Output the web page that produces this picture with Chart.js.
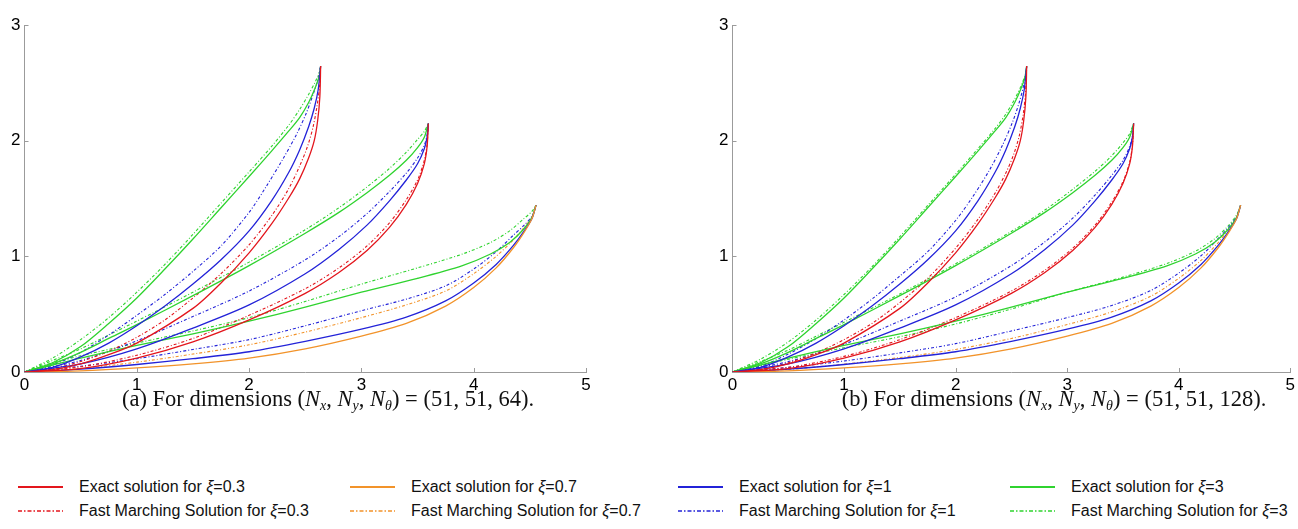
<!DOCTYPE html>
<html>
<head>
<meta charset="utf-8">
<script src="https://cdn.jsdelivr.net/npm/chart.js@4.4.1/dist/chart.umd.min.js"></script>
<style>
  html, body { margin: 0; padding: 0; background: #fff; overflow: hidden; }
  body { width: 1298px; height: 529px; position: relative; font-family: "Liberation Sans", Arial, sans-serif; }
  canvas { position: absolute; top: 0; }
  #plotA { left: 0; }
  #plotB { left: 708px; }
  .caption { position: absolute; top: 386px; transform: translateX(-50%); font-family: "Liberation Serif", "DejaVu Serif", serif; font-size: 22.5px; line-height: 26px; white-space: nowrap; color: #111; }
  .caption sub { font-size: 14px; vertical-align: -4px; line-height: 0; }
  #capA { left: 328px; }
  #capB { left: 1054px; }
  .key { position: absolute; height: 20px; display: flex; align-items: center; white-space: nowrap; font-size: 16px; color: #111; }
  .key svg { margin-right: 16px; flex: none; }
</style>
</head>
<body>
<canvas id="plotA" width="600" height="400"></canvas>
<canvas id="plotB" width="590" height="400"></canvas>
<div class="caption" id="capA">(a) For dimensions (<i>N<sub>x</sub></i>, <i>N<sub>y</sub></i>, <i>N<sub>θ</sub></i>) = (51, 51, 64).</div>
<div class="caption" id="capB">(b) For dimensions (<i>N<sub>x</sub></i>, <i>N<sub>y</sub></i>, <i>N<sub>θ</sub></i>) = (51, 51, 128).</div>
<div id="legend"></div>
<script>
// xi values and their colours
const xiValues = ['0.3', '0.7', '1', '3'];
const xiColors = ['#e3161d', '#f2932a', '#2323d8', '#2fd32f'];

const xTicks = [0, 1, 2, 3, 4, 5];
const yTicks = [0, 1, 2, 3];

// exact solutions, end point (2.64, 2.65)
const exactNear03 = [[0,0],[0.25,0.02],[0.5,0.07],[0.75,0.15],[1.0,0.25],[1.5,0.55],[1.75,0.77],[2.0,1.03],[2.2,1.28],[2.35,1.5],[2.45,1.67],[2.53,1.85],[2.58,2.0],[2.61,2.17],[2.63,2.38],[2.637,2.645]];
const exactNear1 = [[0,0],[0.25,0.04],[0.5,0.13],[0.75,0.25],[1.0,0.4],[1.25,0.57],[1.5,0.76],[1.75,0.97],[2.0,1.22],[2.2,1.48],[2.35,1.72],[2.45,1.92],[2.53,2.12],[2.58,2.28],[2.615,2.44],[2.637,2.645]];
const exactNear3 = [[0,0],[0.25,0.08],[0.5,0.22],[0.75,0.42],[1.0,0.64],[1.25,0.89],[1.5,1.15],[1.75,1.42],[2.0,1.69],[2.2,1.91],[2.35,2.08],[2.45,2.2],[2.53,2.33],[2.59,2.46],[2.625,2.56],[2.637,2.645]];

// exact solutions, end point (3.6, 2.15)
const exactMid03 = [[0,0],[0.5,0.03],[1.0,0.12],[1.5,0.26],[2.0,0.45],[2.5,0.68],[2.8,0.86],[3.05,1.05],[3.25,1.25],[3.4,1.45],[3.5,1.63],[3.56,1.8],[3.585,1.95],[3.596,2.149]];
const exactMid1 = [[0,0],[0.5,0.07],[1.0,0.2],[1.5,0.38],[2.0,0.58],[2.5,0.85],[2.8,1.06],[3.05,1.27],[3.25,1.48],[3.4,1.66],[3.5,1.8],[3.56,1.93],[3.585,2.03],[3.596,2.149]];
const exactMid3 = [[0,0],[0.25,0.07],[0.5,0.17],[0.75,0.29],[1.0,0.41],[1.5,0.66],[2.0,0.92],[2.5,1.2],[2.8,1.38],[3.05,1.55],[3.25,1.7],[3.4,1.83],[3.5,1.94],[3.56,2.03],[3.596,2.149]];

// exact solutions, end point (4.56, 1.44)
const exactFar07 = [[0,0],[0.5,0.01],[1.0,0.035],[1.5,0.07],[2.0,0.12],[2.5,0.2],[3.0,0.31],[3.4,0.42],[3.75,0.57],[4.0,0.73],[4.2,0.9],[4.35,1.07],[4.45,1.21],[4.52,1.33],[4.555,1.443]];
const exactFar1 = [[0,0],[0.5,0.025],[1.0,0.065],[1.5,0.115],[2.0,0.175],[2.5,0.265],[3.0,0.37],[3.4,0.475],[3.75,0.615],[4.0,0.77],[4.2,0.93],[4.35,1.09],[4.45,1.22],[4.52,1.33],[4.555,1.443]];
const exactFar3 = [[0,0],[0.25,0.06],[0.5,0.12],[1.0,0.23],[1.5,0.33],[2.0,0.44],[2.5,0.56],[3.0,0.69],[3.5,0.81],[3.9,0.92],[4.15,1.02],[4.32,1.12],[4.44,1.23],[4.52,1.34],[4.555,1.443]];

// fast marching, grid 51 x 51 x 64
const fmm64Near03 = [[0,0],[0.25,0.03],[0.5,0.09],[0.75,0.18],[1.0,0.3],[1.25,0.45],[1.5,0.64],[1.75,0.85],[2.0,1.1],[2.2,1.35],[2.35,1.58],[2.45,1.78],[2.52,1.95],[2.57,2.12],[2.605,2.3],[2.627,2.47],[2.637,2.645]];
const fmm64Near1 = [[0,0],[0.25,0.06],[0.5,0.17],[0.75,0.32],[1.0,0.49],[1.25,0.67],[1.5,0.87],[1.75,1.09],[2.0,1.38],[2.15,1.6],[2.3,1.84],[2.42,2.05],[2.51,2.24],[2.57,2.4],[2.61,2.52],[2.637,2.645]];
const fmm64Near3 = [[0,0],[0.25,0.12],[0.5,0.28],[0.75,0.47],[1.0,0.69],[1.25,0.93],[1.5,1.19],[1.75,1.46],[2.0,1.73],[2.2,1.95],[2.35,2.13],[2.45,2.27],[2.53,2.4],[2.59,2.51],[2.625,2.59],[2.637,2.645]];
const fmm64Mid03 = [[0,0],[0.5,0.045],[1.0,0.145],[1.5,0.29],[2.0,0.49],[2.5,0.72],[2.8,0.9],[3.05,1.09],[3.25,1.29],[3.4,1.49],[3.5,1.66],[3.56,1.83],[3.585,1.97],[3.596,2.149]];
const fmm64Mid1 = [[0,0],[0.5,0.1],[1.0,0.27],[1.5,0.48],[2.0,0.7],[2.5,0.97],[2.8,1.17],[3.05,1.37],[3.25,1.56],[3.4,1.72],[3.5,1.85],[3.56,1.96],[3.585,2.05],[3.596,2.149]];
const fmm64Mid3 = [[0,0],[0.25,0.1],[0.5,0.2],[0.75,0.32],[1.0,0.44],[1.5,0.69],[2.0,0.95],[2.5,1.23],[2.8,1.42],[3.05,1.6],[3.25,1.76],[3.4,1.9],[3.5,2.01],[3.56,2.08],[3.596,2.149]];
const fmm64Far07 = [[0,0],[0.5,0.03],[1.0,0.085],[1.5,0.155],[2.0,0.235],[2.5,0.345],[3.0,0.47],[3.4,0.58],[3.75,0.7],[4.0,0.85],[4.2,1.0],[4.35,1.14],[4.45,1.25],[4.52,1.34],[4.555,1.443]];
const fmm64Far1 = [[0,0],[0.5,0.05],[1.0,0.115],[1.5,0.195],[2.0,0.28],[2.5,0.4],[3.0,0.53],[3.4,0.63],[3.75,0.745],[4.0,0.89],[4.2,1.04],[4.35,1.18],[4.45,1.27],[4.52,1.35],[4.555,1.443]];
const fmm64Far3 = [[0,0],[0.25,0.08],[0.5,0.14],[1.0,0.25],[1.5,0.355],[2.0,0.47],[2.5,0.61],[3.0,0.76],[3.5,0.9],[3.9,1.02],[4.15,1.12],[4.32,1.22],[4.44,1.32],[4.52,1.39],[4.555,1.443]];

// fast marching, grid 51 x 51 x 128
const fmm128Near03 = [[0,0],[0.25,0.025],[0.5,0.08],[0.75,0.165],[1.0,0.28],[1.25,0.42],[1.5,0.6],[1.75,0.81],[2.0,1.07],[2.2,1.32],[2.35,1.54],[2.45,1.72],[2.52,1.88],[2.57,2.04],[2.605,2.22],[2.627,2.42],[2.637,2.645]];
const fmm128Near1 = [[0,0],[0.25,0.05],[0.5,0.155],[0.75,0.29],[1.0,0.45],[1.25,0.63],[1.5,0.83],[1.75,1.04],[2.0,1.31],[2.15,1.51],[2.3,1.74],[2.42,1.96],[2.51,2.16],[2.57,2.33],[2.61,2.48],[2.637,2.645]];
const fmm128Near3 = [[0,0],[0.25,0.11],[0.5,0.26],[0.75,0.45],[1.0,0.67],[1.25,0.91],[1.5,1.17],[1.75,1.44],[2.0,1.71],[2.2,1.93],[2.35,2.1],[2.45,2.23],[2.53,2.36],[2.59,2.48],[2.625,2.575],[2.637,2.645]];
const fmm128Mid03 = [[0,0],[0.5,0.04],[1.0,0.135],[1.5,0.28],[2.0,0.47],[2.5,0.7],[2.8,0.88],[3.05,1.07],[3.25,1.27],[3.4,1.47],[3.5,1.645],[3.56,1.815],[3.585,1.96],[3.596,2.149]];
const fmm128Mid1 = [[0,0],[0.5,0.09],[1.0,0.24],[1.5,0.44],[2.0,0.65],[2.5,0.92],[2.8,1.125],[3.05,1.33],[3.25,1.53],[3.4,1.7],[3.5,1.83],[3.56,1.95],[3.585,2.04],[3.596,2.149]];
const fmm128Mid3 = [[0,0],[0.25,0.09],[0.5,0.19],[0.75,0.31],[1.0,0.43],[1.5,0.675],[2.0,0.935],[2.5,1.215],[2.8,1.4],[3.05,1.58],[3.25,1.735],[3.4,1.87],[3.5,1.98],[3.56,2.06],[3.596,2.149]];
const fmm128Far07 = [[0,0],[0.5,0.022],[1.0,0.068],[1.5,0.125],[2.0,0.195],[2.5,0.29],[3.0,0.41],[3.4,0.52],[3.75,0.655],[4.0,0.81],[4.2,0.965],[4.35,1.115],[4.45,1.235],[4.52,1.335],[4.555,1.443]];
const fmm128Far1 = [[0,0],[0.5,0.04],[1.0,0.095],[1.5,0.165],[2.0,0.245],[2.5,0.355],[3.0,0.47],[3.4,0.575],[3.75,0.705],[4.0,0.855],[4.2,1.005],[4.35,1.15],[4.45,1.255],[4.52,1.345],[4.555,1.443]];
const fmm128Far3 = [[0,0],[0.25,0.055],[0.5,0.11],[1.0,0.21],[1.5,0.305],[2.0,0.415],[2.5,0.545],[3.0,0.69],[3.5,0.82],[3.9,0.94],[4.15,1.045],[4.32,1.15],[4.44,1.26],[4.52,1.36],[4.555,1.443]];

const exactCurves = [
  [exactNear03, 0], [exactNear1, 2], [exactNear3, 3],
  [exactMid03, 0], [exactMid1, 2], [exactMid3, 3],
  [exactFar07, 1], [exactFar1, 2], [exactFar3, 3]
];
const fmm64Curves = [
  [fmm64Near03, 0], [fmm64Near1, 2], [fmm64Near3, 3],
  [fmm64Mid03, 0], [fmm64Mid1, 2], [fmm64Mid3, 3],
  [fmm64Far07, 1], [fmm64Far1, 2], [fmm64Far3, 3]
];
const fmm128Curves = [
  [fmm128Near03, 0], [fmm128Near1, 2], [fmm128Near3, 3],
  [fmm128Mid03, 0], [fmm128Mid1, 2], [fmm128Mid3, 3],
  [fmm128Far07, 1], [fmm128Far1, 2], [fmm128Far3, 3]
];

const dashDot = [3, 2, 1, 2];
const axisGray = '#9b9b9b';
const tickFont = { family: '"Liberation Sans", Arial, sans-serif', size: 17 };

function curve(points, colorIndex, dashed) {
  return {
    data: points.map(([x, y]) => ({ x, y })),
    borderColor: xiColors[colorIndex],
    borderWidth: dashed ? 1.1 : 1.3,
    borderDash: dashed ? dashDot : [],
    pointRadius: 0,
    fill: false,
    tension: 0.3
  };
}

// small inward tick marks on both axes
const innerTicks = {
  id: 'innerTicks',
  afterDraw(chart) {
    const { ctx, scales: { x, y } } = chart;
    ctx.save();
    ctx.strokeStyle = axisGray;
    ctx.lineWidth = 1;
    ctx.beginPath();
    xTicks.slice(1).forEach((v) => {
      const px = Math.round(x.getPixelForValue(v)) + 0.5;
      ctx.moveTo(px, y.bottom);
      ctx.lineTo(px, y.bottom - 4);
    });
    yTicks.slice(1).forEach((v) => {
      const py = Math.round(y.getPixelForValue(v)) + 0.5;
      ctx.moveTo(x.left, py);
      ctx.lineTo(x.left + 4, py);
    });
    ctx.stroke();
    ctx.restore();
  }
};

function renderPanel(canvasId, fmmCurves, rightPad) {
  const datasets = [];
  exactCurves.forEach(([pts, c]) => datasets.push(curve(pts, c, false)));
  fmmCurves.forEach(([pts, c]) => datasets.push(curve(pts, c, true)));

  return new Chart(document.getElementById(canvasId), {
    type: 'line',
    data: { datasets },
    options: {
      responsive: false,
      animation: false,
      devicePixelRatio: 1,
      layout: { padding: { top: 25, right: rightPad, left: 0, bottom: 0 } },
      plugins: { legend: { display: false }, tooltip: { enabled: false } },
      scales: {
        x: {
          type: 'linear',
          min: 0,
          max: 5,
          afterBuildTicks: (s) => { s.ticks = xTicks.map((v) => ({ value: v })); },
          afterFit: (s) => { s.height = 28; },
          ticks: { color: '#000', font: tickFont, padding: 3, maxRotation: 0 },
          grid: { display: false, drawTicks: false },
          border: { color: axisGray }
        },
        y: {
          type: 'linear',
          min: 0,
          max: 3,
          afterBuildTicks: (s) => { s.ticks = yTicks.map((v) => ({ value: v })); },
          afterFit: (s) => { s.width = 24.5; },
          ticks: { color: '#000', font: tickFont, padding: 4 },
          grid: { display: false, drawTicks: false },
          border: { color: axisGray }
        }
      }
    },
    plugins: [innerTicks]
  });
}

renderPanel('plotA', fmm64Curves, 14);
renderPanel('plotB', fmm128Curves, 6);

// legend: exact row on top, fast marching row below
const legendCols = [18, 350, 678, 1010];
const legendRows = [477, 501];
const legend = document.getElementById('legend');
xiValues.forEach((xi, i) => {
  [false, true].forEach((dashed, r) => {
    const item = document.createElement('div');
    item.className = 'key';
    item.style.left = legendCols[i] + 'px';
    item.style.top = legendRows[r] + 'px';
    const dash = dashed ? ' stroke-dasharray="4 2 1.5 2"' : '';
    const w = dashed ? 1.6 : 2;
    const label = dashed ? 'Fast Marching Solution for ' : 'Exact solution for ';
    item.innerHTML = '<svg width="45" height="10"><line x1="0" y1="5" x2="45" y2="5" stroke="' +
      xiColors[i] + '" stroke-width="' + w + '"' + dash + '/></svg><span>' + label + '<i>ξ</i>=' + xi + '</span>';
    legend.appendChild(item);
  });
});
</script>
</body>
</html>
